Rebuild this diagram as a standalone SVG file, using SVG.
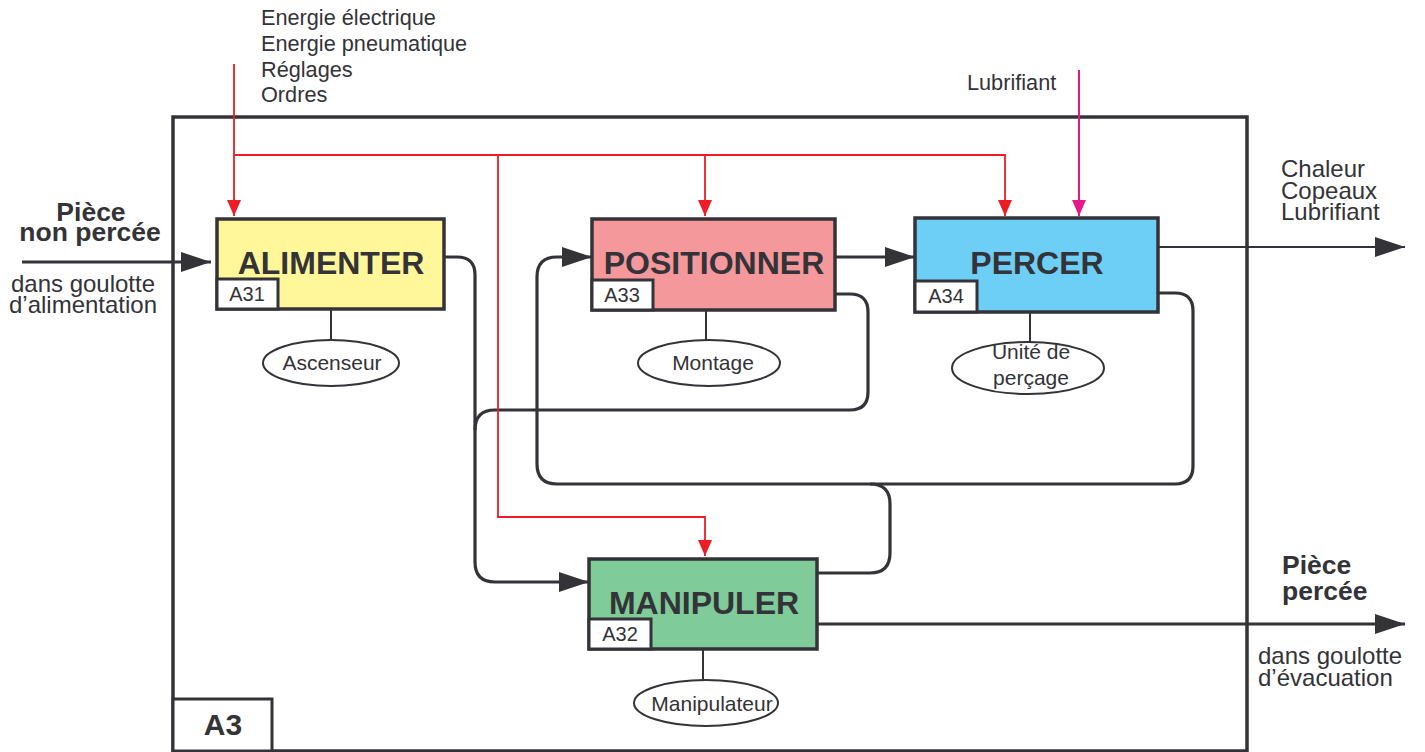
<svg xmlns="http://www.w3.org/2000/svg" width="1425" height="752" viewBox="0 0 1425 752">
<style>
text{font-family:"Liberation Sans",Arial,sans-serif;fill:#333338}
.box{stroke:#333338;stroke-width:3.5}
.tag{fill:#fff;stroke:#333338;stroke-width:3}
.title{font-weight:bold;font-size:32px;text-anchor:middle}
.id{font-size:20px;text-anchor:middle}
.mech{fill:#fff;stroke:#333338;stroke-width:2}
.mline{stroke:#333338;stroke-width:2}
.mtext{font-size:21px;text-anchor:middle}
.flow{fill:none;stroke:#333338;stroke-width:3.2}
.thin{fill:none;stroke:#333338;stroke-width:2}
.ctrl{fill:none;stroke:#ee1c25;stroke-width:1.8}
.lub{fill:none;stroke:#e8168b;stroke-width:2}
.lbl{font-size:21.7px}
.side{font-size:24px}
.bold{font-size:26.5px;font-weight:bold}
</style>
<defs>
<marker id="ah" markerUnits="userSpaceOnUse" markerWidth="30" markerHeight="20" refX="30" refY="10" orient="auto"><path d="M0,0 L30,10 L0,20 Z" fill="#333338"/></marker>
<marker id="ar" markerUnits="userSpaceOnUse" markerWidth="16" markerHeight="14" refX="16" refY="7" orient="auto"><path d="M0,0 L16,7 L0,14 Z" fill="#ee1c25"/></marker>
<marker id="am" markerUnits="userSpaceOnUse" markerWidth="16" markerHeight="14" refX="16" refY="7" orient="auto"><path d="M0,0 L16,7 L0,14 Z" fill="#e8168b"/></marker>
</defs>
<rect width="1425" height="752" fill="#fff"/>
<g id="frame">
<rect x="173" y="117" width="1074" height="634" fill="none" stroke="#333338" stroke-width="3.5"/>
<rect x="173" y="699" width="99" height="52" class="tag" stroke-width="3.5"/>
<text x="223" y="735" style="font-weight:bold;font-size:30px" text-anchor="middle">A3</text>
</g>
<g id="labels">
<text class="lbl" x="261" y="25">Energie électrique</text>
<text class="lbl" x="261" y="51">Energie pneumatique</text>
<text class="lbl" x="261" y="77">Réglages</text>
<text class="lbl" x="261" y="102">Ordres</text>
<text class="lbl" x="967" y="90">Lubrifiant</text>
<text class="side" x="1281" y="177">Chaleur</text>
<text class="side" x="1281" y="199">Copeaux</text>
<text class="side" x="1281" y="220">Lubrifiant</text>
<text class="bold" x="91" y="221" text-anchor="middle">Pièce</text>
<text class="bold" x="90" y="241" text-anchor="middle">non percée</text>
<text class="side" x="83" y="292" text-anchor="middle">dans goulotte</text>
<text class="side" x="83" y="313" text-anchor="middle">d’alimentation</text>
<text class="bold" x="1282" y="574">Pièce</text>
<text class="bold" x="1282" y="600">percée</text>
<text class="side" x="1258" y="664">dans goulotte</text>
<text class="side" x="1258" y="686">d’évacuation</text>
</g>
<g id="connectors">
<path class="flow" d="M22 262 H211" marker-end="url(#ah)"/>
<path class="flow" d="M444 257 H457 Q475 257 475 275 V562 Q475 582 495 582 H589" marker-end="url(#ah)"/>
<path class="flow" d="M835 294 H850 Q868 294 868 312 V392 Q868 410 850 410 H495 Q475 410 475 430"/>
<path class="flow" d="M835 257 H915" marker-end="url(#ah)"/>
<path class="flow" d="M1158 293 H1175 Q1193 293 1193 311 V466 Q1193 484 1175 484 H557 Q537 484 537 464 V277 Q537 257 557 257 H592" marker-end="url(#ah)"/>
<path class="flow" d="M817 573 H870 Q890 573 890 553 V504 Q890 484 870 484"/>
<path class="flow" d="M817 624 H1405" marker-end="url(#ah)"/>
<path class="thin" d="M1158 247 H1405" marker-end="url(#ah)"/>
<path class="ctrl" d="M234 64 V216" marker-end="url(#ar)"/>
<path class="ctrl" d="M234 155 H1005 V216" marker-end="url(#ar)"/>
<path class="ctrl" d="M705 155 V216" marker-end="url(#ar)"/>
<path class="ctrl" d="M498 155 V517 H705 V556" marker-end="url(#ar)"/>
<path class="lub" d="M1079 70 V216" marker-end="url(#am)"/>
<path class="mline" d="M331 309 V340 M706 310 V340 M1030 312 V343 M703 649 V680"/>
</g>
<g id="A31">
<rect x="217" y="219" width="227" height="90" class="box" fill="#fff799"/>
<text class="title" x="331" y="274">ALIMENTER</text>
<rect x="217" y="279" width="61" height="30" class="tag"/>
<text class="id" x="247" y="301">A31</text>
</g>
<g id="A33">
<rect x="592" y="219" width="243" height="91" class="box" fill="#f4989c"/>
<text class="title" x="714" y="274">POSITIONNER</text>
<rect x="592" y="280" width="61" height="30" class="tag"/>
<text class="id" x="622" y="302">A33</text>
</g>
<g id="A34">
<rect x="915" y="218" width="243" height="94" class="box" fill="#6dcff6"/>
<text class="title" x="1037" y="274">PERCER</text>
<rect x="915" y="281" width="62" height="31" class="tag"/>
<text class="id" x="946" y="303">A34</text>
</g>
<g id="A32">
<rect x="589" y="559" width="228" height="90" class="box" fill="#7fcb99"/>
<text class="title" x="704" y="614">MANIPULER</text>
<rect x="589" y="619" width="62" height="30" class="tag"/>
<text class="id" x="620" y="641">A32</text>
</g>
<g id="m-ascenseur">
<ellipse cx="331" cy="363" rx="68" ry="23" class="mech"/>
<text class="mtext" x="332" y="370">Ascenseur</text>
</g>
<g id="m-montage">
<ellipse cx="709" cy="363" rx="71" ry="23" class="mech"/>
<text class="mtext" x="713" y="370">Montage</text>
</g>
<g id="m-unite">
<ellipse cx="1028" cy="368" rx="76" ry="26" class="mech"/>
<text class="mtext" x="1031" y="359">Unité de</text>
<text class="mtext" x="1031" y="385">perçage</text>
</g>
<g id="m-manipulateur">
<ellipse cx="706" cy="703" rx="72" ry="23" class="mech"/>
<text class="mtext" x="712" y="711">Manipulateur</text>
</g>
</svg>
